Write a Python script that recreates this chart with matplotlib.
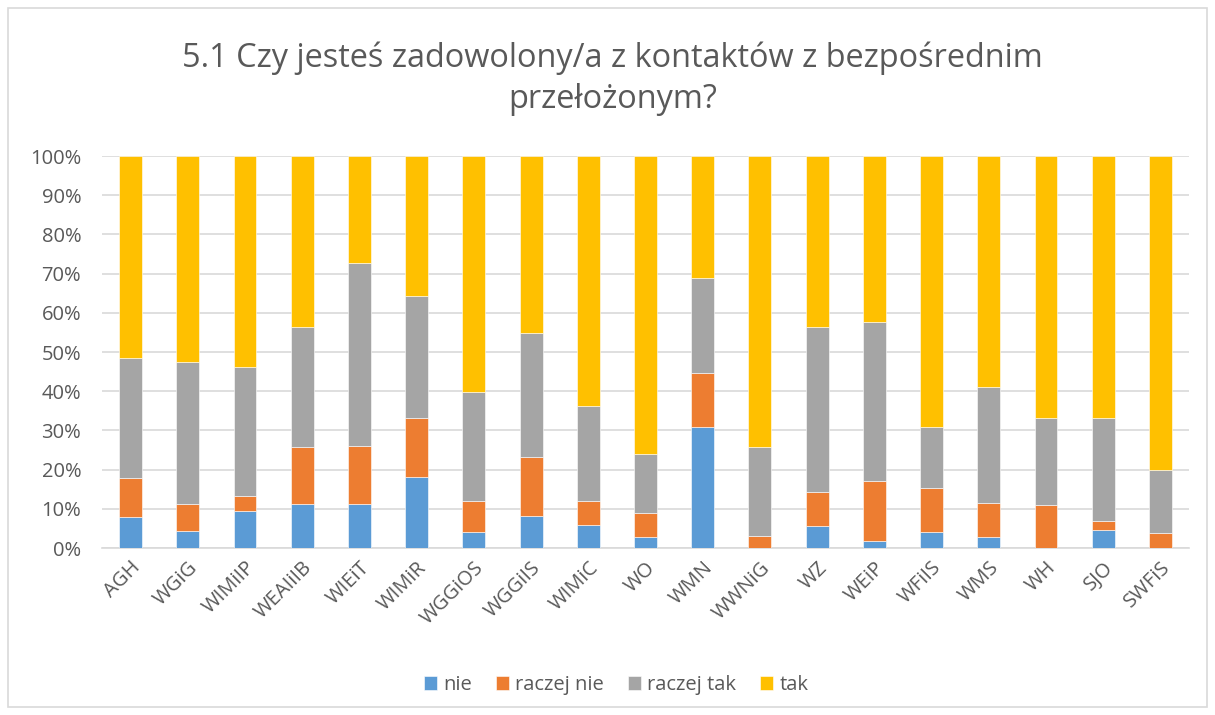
import matplotlib
matplotlib.use("Agg")
import matplotlib.pyplot as plt
from matplotlib.patches import Rectangle
import numpy as np

categories = ["AGH", "WGiG", "WIMiIP", "WEAIiIB", "WIEiT", "WIMiR", "WGGiOS", "WGGiIS",
              "WIMiC", "WO", "WMN", "WWNiG", "WZ", "WEiP", "WFiIS", "WMS", "WH", "SJO", "SWFiS"]
# segment sizes (percent)
nie = [7.9, 4.3, 9.5, 11.3, 11.2, 18.1, 4.2, 8.1, 5.9, 2.8, 30.9, 0.0, 5.7, 1.8, 4.0, 2.7, 0.0, 4.7, 0.0]
raczej_nie = [9.9, 6.9, 3.7, 14.5, 14.8, 15.1, 7.8, 15.1, 6.1, 6.1, 13.8, 3.1, 8.6, 15.3, 11.4, 8.9, 11.0, 2.3, 3.8]
raczej_tak = [30.6, 36.3, 32.9, 30.7, 46.6, 31.1, 27.9, 31.6, 24.2, 15.1, 24.1, 22.6, 42.2, 40.5, 15.5, 29.5, 22.2, 26.2, 16.1]
tak = [51.6, 52.5, 53.9, 43.5, 27.4, 35.7, 60.1, 45.2, 63.8, 76.0, 31.2, 74.3, 43.5, 42.4, 69.1, 58.9, 66.8, 66.8, 80.1]

series = [("nie", nie, "#5b9bd5"), ("raczej nie", raczej_nie, "#ed7d31"),
          ("raczej tak", raczej_tak, "#a5a5a5"), ("tak", tak, "#ffc000")]

plt.rcParams['font.family'] = ['Open Sans', 'DejaVu Sans']

fig = plt.figure(figsize=(12.15, 7.15), dpi=100)
ax = fig.add_axes([102/1215, 1-548/715, 1087/1215, 392/715])

x = np.arange(len(categories))
bottom = np.zeros(len(categories))
for name, vals, col in series:
    v = np.array(vals, dtype=float)
    ax.bar(x, v, 0.4, bottom=bottom, color=col, label=name, edgecolor="white", linewidth=0.4, zorder=3)
    bottom += v

ax.set_xlim(-0.5, len(categories) - 0.5)
ax.set_ylim(0, 100)
ax.set_yticks(np.arange(0, 101, 10))
ax.set_yticklabels([f"{t}%" for t in range(0, 101, 10)])
ax.set_xticks(x)
ax.set_xticklabels(categories, rotation=45, ha="right", rotation_mode="anchor")
ax.tick_params(axis="both", length=0, colors="#595959", labelsize=14.5)
ax.tick_params(axis="y", pad=15)
ax.tick_params(axis="x", pad=7)
ax.yaxis.grid(True, color="#d9d9d9", linewidth=1.2, zorder=0)
ax.set_axisbelow(True)
for s in ["top", "right", "left"]:
    ax.spines[s].set_visible(False)
ax.spines["bottom"].set_color("#d9d9d9")
ax.spines["bottom"].set_linewidth(1.2)

fig.text(0.504, 1-58/715, "5.1 Czy jesteś zadowolony/a z kontaktów z bezpośrednim", ha="center", va="center",
         fontsize=23.4, color="#595959")
fig.text(0.504, 1-99/715, "przełożonym?", ha="center", va="center", fontsize=23.4, color="#595959")

leg = fig.legend(loc="center", bbox_to_anchor=(0.507, 1-685/715), ncol=4, frameon=False,
                 fontsize=14.5, handlelength=0.65, handleheight=0.65, handletextpad=0.3, columnspacing=1.2)
for t in leg.get_texts():
    t.set_color("#595959")

fig.patches.append(Rectangle((8/1215, 8/715), 1199/1215, 699/715, transform=fig.transFigure,
                             fill=False, edgecolor="#d9d9d9", linewidth=1.2))

fig.savefig("out.png", dpi=100, facecolor="white")
